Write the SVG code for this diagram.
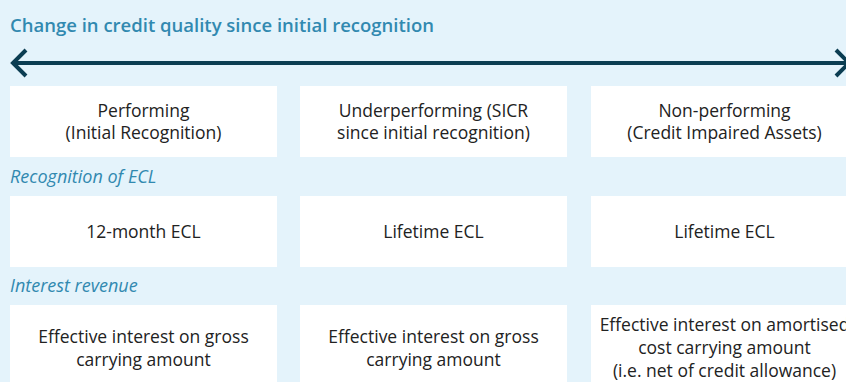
<svg xmlns="http://www.w3.org/2000/svg" width="846" height="382" viewBox="0 0 846 382">
  <defs>
    <style>
      .box { fill: #ffffff; }
      .title { font-family: "Open Sans", "Liberation Sans", sans-serif; font-size: 18.5px; font-weight: 600; fill: #3189b0; }
      .label { font-family: "Open Sans", "Liberation Sans", sans-serif; font-size: 18px; font-style: italic; fill: #3189b0; }
      .txt { font-family: "Open Sans", "Liberation Sans", sans-serif; font-size: 17.5px; fill: #222222; text-anchor: middle; }
      .axis { stroke: #0b3d52; stroke-width: 4; fill: none; }
      .head { stroke: #0b3d52; stroke-width: 4; fill: none; stroke-linecap: butt; }
    </style>
  </defs>
  <rect x="0" y="0" width="846" height="382" fill="#e4f3fb"/>

  <text class="title" x="10" y="32">Change in credit quality since initial recognition</text>

  <!-- quality axis -->
  <g id="connectors">
    <line class="axis" x1="12" y1="63" x2="848" y2="63"/>
    <polyline class="head" points="26,50 13,63 26,76"/>
    <polyline class="head" points="836,50 849,63 836,76"/>
  </g>

  <!-- stage headers -->
  <g id="stage1">
    <rect class="box" x="10" y="86" width="267" height="71"/>
    <text class="txt" x="143.5" y="117">Performing</text>
    <text class="txt" x="143.5" y="139">(Initial Recognition)</text>
  </g>
  <g id="stage2">
    <rect class="box" x="300" y="86" width="267" height="71"/>
    <text class="txt" x="433.5" y="117">Underperforming (SICR</text>
    <text class="txt" x="433.5" y="139">since initial recognition)</text>
  </g>
  <g id="stage3">
    <rect class="box" x="591" y="86" width="267" height="71"/>
    <text class="txt" x="724.5" y="117">Non-performing</text>
    <text class="txt" x="724.5" y="139">(Credit Impaired Assets)</text>
  </g>

  <text class="label" x="10" y="183">Recognition of ECL</text>

  <g id="ecl1">
    <rect class="box" x="10" y="196" width="267" height="71"/>
    <text class="txt" x="143.5" y="238">12-month ECL</text>
  </g>
  <g id="ecl2">
    <rect class="box" x="300" y="196" width="267" height="71"/>
    <text class="txt" x="433.5" y="238">Lifetime ECL</text>
  </g>
  <g id="ecl3">
    <rect class="box" x="591" y="196" width="267" height="71"/>
    <text class="txt" x="724.5" y="238">Lifetime ECL</text>
  </g>

  <text class="label" x="10" y="292">Interest revenue</text>

  <g id="rev1">
    <rect class="box" x="10" y="305" width="267" height="85"/>
    <text class="txt" x="143.5" y="343">Effective interest on gross</text>
    <text class="txt" x="143.5" y="366">carrying amount</text>
  </g>
  <g id="rev2">
    <rect class="box" x="300" y="305" width="267" height="85"/>
    <text class="txt" x="433.5" y="343">Effective interest on gross</text>
    <text class="txt" x="433.5" y="366">carrying amount</text>
  </g>
  <g id="rev3">
    <rect class="box" x="591" y="305" width="267" height="85"/>
    <text class="txt" x="724.5" y="331">Effective interest on amortised</text>
    <text class="txt" x="724.5" y="354">cost carrying amount</text>
    <text class="txt" x="724.5" y="377">(i.e. net of credit allowance)</text>
  </g>
</svg>
